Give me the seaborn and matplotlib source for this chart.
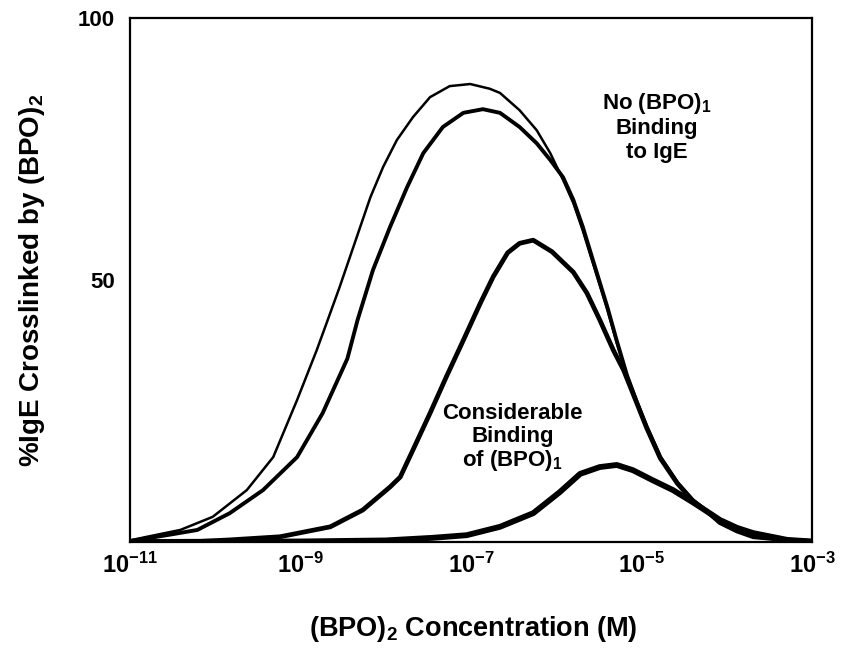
import numpy as np
import pandas as pd
import seaborn as sns
import matplotlib
matplotlib.use("Agg")
import matplotlib.pyplot as plt

# log10 of (BPO)2 concentration (M) and % IgE crosslinked
# thin curve, highest peak (no (BPO)1 binding)
log_a = [-11.0, -10.80, -10.41, -10.03, -9.63, -9.32, -9.04, -8.81, -8.68, -8.54,
         -8.42, -8.30, -8.18, -8.03, -7.87, -7.68, -7.48, -7.25, -7.01, -6.78,
         -6.66, -6.43, -6.23, -6.07, -5.92, -5.80, -5.69, -5.57, -5.40, -5.29,
         -5.17, -5.05, -4.94, -4.78, -4.58, -4.40, -4.20, -4.08, -3.88, -3.69,
         -3.29, -3.0]
pct_a = [0.3, 1.0, 2.3, 4.8, 9.9, 16.2, 27.1, 36.6, 42.4, 48.7,
         54.4, 60.1, 65.8, 71.6, 76.7, 81.1, 84.9, 87.0, 87.4, 86.5,
         85.7, 82.4, 78.6, 74.2, 69.1, 64.7, 59.5, 53.2, 44.3, 38.0,
         31.5, 26.5, 22.0, 16.2, 11.3, 8.0, 5.5, 3.8, 2.2, 1.1,
         0.4, 0.2]

# second curve
log_b = [-11.0, -10.80, -10.57, -10.21, -9.83, -9.44, -9.04, -8.74, -8.45, -8.33,
         -8.15, -7.95, -7.75, -7.56, -7.33, -7.09, -6.86, -6.66, -6.43, -6.23,
         -6.07, -5.92, -5.80, -5.69, -5.57, -5.40, -5.29, -5.17, -5.05, -4.94,
         -4.78, -4.58, -4.40, -4.20, -4.08, -3.88, -3.69, -3.29, -3.0]
pct_b = [0.2, 0.7, 1.3, 2.3, 5.5, 9.9, 16.2, 24.6, 35.0, 42.4,
         51.9, 60.1, 67.7, 74.2, 79.2, 81.9, 82.6, 81.9, 79.2, 76.1,
         72.9, 69.6, 65.3, 60.2, 53.8, 44.8, 38.4, 31.8, 26.5, 22.0,
         16.2, 11.3, 8.0, 5.5, 3.8, 2.2, 1.1, 0.4, 0.2]

# third curve
log_c = [-11.0, -10.2, -9.83, -9.24, -8.65, -8.27, -7.95, -7.83, -7.68, -7.48,
         -7.29, -7.09, -6.89, -6.74, -6.57, -6.43, -6.27, -6.05, -5.80, -5.64,
         -5.49, -5.33, -5.21, -5.05, -4.94, -4.78, -4.58, -4.40, -4.20, -4.08,
         -3.88, -3.69, -3.29, -3.0]
pct_c = [0.0, 0.1, 0.4, 1.0, 2.9, 6.1, 10.5, 12.4, 17.6, 24.6,
         31.5, 38.5, 45.6, 50.6, 55.2, 57.0, 57.6, 55.4, 51.5, 47.5,
         42.4, 36.6, 32.8, 26.3, 21.8, 16.0, 11.2, 7.9, 5.4, 3.7,
         2.1, 1.0, 0.4, 0.1]

# lowest curve (considerable (BPO)1 binding)
log_d = [-11.0, -9.0, -8.0, -7.45, -7.05, -6.66, -6.27, -5.96, -5.72, -5.49,
         -5.29, -5.10, -4.87, -4.63, -4.40, -4.20, -4.08, -3.88, -3.69, -3.29,
         -3.0]
pct_d = [0.0, 0.1, 0.3, 0.8, 1.3, 2.9, 5.5, 9.5, 13.0, 14.3,
         14.7, 13.7, 11.8, 9.9, 7.6, 5.5, 4.2, 2.7, 1.7, 0.4,
         0.1]

curves = [(log_a, pct_a, 1.8), (log_b, pct_b, 2.8), (log_c, pct_c, 3.4), (log_d, pct_d, 4.2)]

x_ticks = [1e-11, 1e-9, 1e-7, 1e-5, 1e-3]
x_ticklabels = [r"$10^{-11}$", r"$10^{-9}$", r"$10^{-7}$", r"$10^{-5}$", r"$10^{-3}$"]
y_ticks = [50, 100]
y_ticklabels = ["50", "100"]

sns.set_theme(style="white")
plt.rcParams['font.family'] = ['Liberation Sans', 'DejaVu Sans']
plt.rcParams['font.weight'] = 'bold'
plt.rcParams['text.color'] = 'black'
plt.rcParams['axes.labelcolor'] = 'black'
plt.rcParams['xtick.color'] = 'black'
plt.rcParams['ytick.color'] = 'black'
plt.rcParams['mathtext.fontset'] = 'custom'
plt.rcParams['mathtext.rm'] = 'Liberation Sans:bold'
plt.rcParams['mathtext.it'] = 'Liberation Sans:bold'
plt.rcParams['mathtext.bf'] = 'Liberation Sans:bold'

fig = plt.figure(figsize=(8.5, 6.5), dpi=100)
ax = fig.add_axes([130 / 850, 108 / 650, 682 / 850, 524 / 650])

for logs, pcts, lw in curves:
    df = pd.DataFrame({"conc": 10.0 ** np.array(logs), "pct": pcts})
    sns.lineplot(data=df, x="conc", y="pct", ax=ax, color="black",
                 linewidth=lw, sort=True, solid_capstyle="round",
                 solid_joinstyle="round")

ax.set_xscale("log")
ax.set_xlim(1e-11, 1e-3)
ax.set_ylim(0, 100)
ax.set_xticks(x_ticks)
ax.set_xticklabels(x_ticklabels)
ax.minorticks_off()
ax.set_yticks(y_ticks)
ax.set_yticklabels(y_ticklabels)
ax.tick_params(axis="both", length=0, colors="black", labelcolor="black")
ax.tick_params(axis="x", pad=8, labelsize=17)
ax.tick_params(axis="y", pad=11, labelsize=16)

for s in ax.spines.values():
    s.set_color("black")
    s.set_linewidth(1.6)

ax.set_xlabel(r"(BPO)$_2$ Concentration (M)", fontsize=19.5, fontweight="bold", color="black")
ax.set_ylabel(r"%IgE Crosslinked by (BPO)$_2$", fontsize=20, fontweight="bold", color="black")
ax.xaxis.set_label_coords(0.504, -0.137)
ax.yaxis.set_label_coords(-0.122, 0.5)

ax.text(10 ** -4.82, 79.2, "No (BPO)$_1$\nBinding\nto IgE", ha="center", va="center",
        multialignment="center", fontsize=16, fontweight="bold", linespacing=1.15,
        color="black")
ax.text(10 ** -6.51, 19.8, "Considerable\nBinding\nof (BPO)$_1$", ha="center", va="center",
        multialignment="center", fontsize=16, fontweight="bold", linespacing=1.1,
        color="black")

fig.savefig("out.png", dpi=100)
